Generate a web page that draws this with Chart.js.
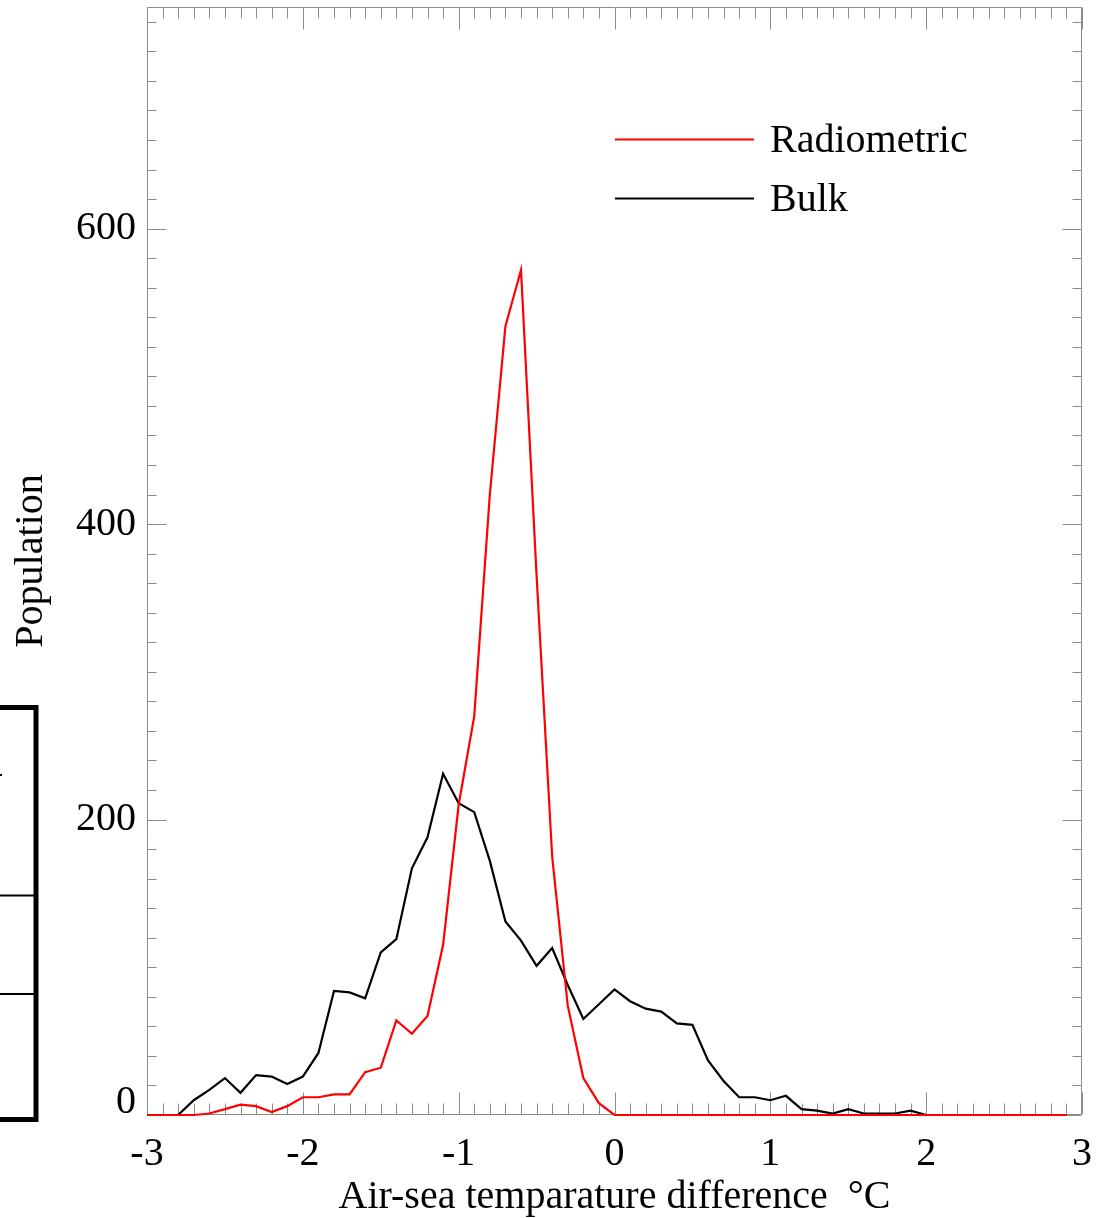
<!DOCTYPE html>
<html>
<head>
<meta charset="utf-8">
<title>Air-sea temperature difference histogram</title>
<script src="https://cdn.jsdelivr.net/npm/chart.js@4.4.1/dist/chart.umd.min.js"></script>
<style>
  html, body { margin: 0; padding: 0; background: #ffffff; }
  canvas { display: block; }
</style>
</head>
<body>
<canvas id="chart" width="1104" height="1218"></canvas>
<script>
// Histogram bin centres (°C)
const binCentres = [
  -3.0, -2.9, -2.8, -2.7, -2.6, -2.5, -2.4, -2.3, -2.2, -2.1,
  -2.0, -1.9, -1.8, -1.7, -1.6, -1.5, -1.4, -1.3, -1.2, -1.1,
  -1.0, -0.9, -0.8, -0.7, -0.6, -0.5, -0.4, -0.3, -0.2, -0.1,
   0.0,  0.1,  0.2,  0.3,  0.4,  0.5,  0.6,  0.7,  0.8,  0.9,
   1.0,  1.1,  1.2,  1.3,  1.4,  1.5,  1.6,  1.7,  1.8,  1.9,
   2.0,  2.1,  2.2,  2.3,  2.4,  2.5,  2.6,  2.7,  2.8,  2.9
];

// Population per bin, radiometric air-sea difference
const radiometric = [
    0,   0,   0,   0,   1,   4,   7,   6,   2,   6,
   12,  12,  14,  14,  29,  32,  64,  55,  67, 115,
  210, 270, 420, 534, 572, 365, 175,  74,  25,   8,
    0,   0,   0,   0,   0,   0,   0,   0,   0,   0,
    0,   0,   0,   0,   0,   0,   0,   0,   0,   0,
    0,   0,   0,   0,   0,   0,   0,   0,   0,   0
];

// Population per bin, bulk air-sea difference
const bulk = [
    0,   0,   0,  10,  17,  25,  15,  27,  26,  21,
   26,  42,  84,  83,  79, 110, 119, 167, 188, 231,
  211, 205, 172, 131, 118, 101, 113,  88,  65,  75,
   85,  77,  72,  70,  62,  61,  37,  23,  12,  12,
   10,  13,   4,   3,   1,   4,   1,   1,   1,   3,
    0,   0,   0,   0,   0,   0,   0,   0,   0,   0
];

const seriesNames = ['Radiometric', 'Bulk'];
const seriesColours = ['#ff0000', '#000000'];

const xTickValues = [-3, -2, -1, 0, 1, 2, 3];
const xTickLabels = ['-3', '-2', '-1', '0', '1', '2', '3'];
const yTickValues = [0, 200, 400, 600];
const yTickLabels = ['0', '200', '400', '600'];

const xTitle = 'Air-sea temparature difference  \u00B0C';
const yTitle = 'Population';

const SERIF = "'Liberation Serif', 'Times New Roman', Times, serif";
const AXIS_GREY = '#8c8c8c';

function toPoints(values) {
  return binCentres.map((x, i) => ({ x: x, y: values[i] }));
}

// Box frame with inward ticks on all four sides
const frameTicks = {
  id: 'frameTicks',
  beforeDatasetsDraw(chart) {
    const { ctx, chartArea, scales } = chart;
    const xs = scales.x, ys = scales.y;
    const L = Math.round(chartArea.left) + 0.5;
    const R = Math.round(chartArea.right) - 0.5;
    const T = Math.round(chartArea.top) + 0.5;
    const B = Math.round(chartArea.bottom) - 0.5;
    ctx.save();
    ctx.strokeStyle = AXIS_GREY;
    ctx.lineWidth = 1;
    ctx.beginPath();
    ctx.rect(L, T, R - L, B - T);
    // x ticks: every 0.1, major every 1
    for (let k = -30; k <= 30; k++) {
      const px = Math.round(xs.getPixelForValue(k / 10)) + 0.5;
      const len = (k % 10 === 0) ? 22 : 11;
      ctx.moveTo(px, B); ctx.lineTo(px, B - len);
      ctx.moveTo(px, T); ctx.lineTo(px, T + len);
    }
    // y ticks: every 20, major every 200
    for (let v = 0; v <= 740; v += 20) {
      const py = Math.round(ys.getPixelForValue(v)) + 0.5;
      const len = (v % 200 === 0) ? 19 : 9;
      ctx.moveTo(L, py); ctx.lineTo(L + len, py);
      ctx.moveTo(R, py); ctx.lineTo(R - len, py);
    }
    ctx.stroke();
    ctx.restore();
  }
};

// Legend inside the plot, upper right
const insetLegend = {
  id: 'insetLegend',
  afterDatasetsDraw(chart) {
    const { ctx, chartArea } = chart;
    const x0 = chartArea.left + 468;
    const x1 = chartArea.left + 607;
    const xt = chartArea.left + 623;
    ctx.save();
    ctx.font = '40px ' + SERIF;
    ctx.textBaseline = 'middle';
    ctx.textAlign = 'left';
    chart.data.datasets.forEach((ds, i) => {
      const y = chartArea.top + 132.5 + i * 59;
      ctx.strokeStyle = ds.borderColor;
      ctx.lineWidth = 2;
      ctx.beginPath();
      ctx.moveTo(x0, y); ctx.lineTo(x1, y);
      ctx.stroke();
      ctx.fillStyle = '#000000';
      ctx.fillText(ds.label, xt, y + 2);
    });
    ctx.restore();
  }
};

// Frame of the adjoining panel, cut off by the left edge of the page
const edgePanel = {
  id: 'edgePanel',
  afterDraw(chart) {
    const { ctx } = chart;
    ctx.save();
    ctx.strokeStyle = '#000000';
    ctx.lineWidth = 5;
    ctx.beginPath();
    ctx.moveTo(-10, 707.5); ctx.lineTo(36, 707.5); ctx.lineTo(36, 1119.5); ctx.lineTo(-10, 1119.5);
    ctx.stroke();
    ctx.lineWidth = 2;
    ctx.beginPath();
    ctx.moveTo(0, 895.5); ctx.lineTo(34, 895.5);
    ctx.moveTo(0, 994); ctx.lineTo(34, 994);
    ctx.moveTo(0, 775); ctx.lineTo(2, 775);
    ctx.stroke();
    ctx.restore();
  }
};

new Chart(document.getElementById('chart'), {
  type: 'line',
  data: {
    datasets: [
      {
        label: seriesNames[0],
        data: toPoints(radiometric),
        borderColor: seriesColours[0],
        borderWidth: 2.2,
        pointRadius: 0,
        tension: 0,
        fill: false,
        clip: 6
      },
      {
        label: seriesNames[1],
        data: toPoints(bulk),
        borderColor: seriesColours[1],
        borderWidth: 2.2,
        pointRadius: 0,
        tension: 0,
        fill: false,
        clip: 6
      }
    ]
  },
  options: {
    responsive: false,
    animation: false,
    devicePixelRatio: 1,
    layout: { padding: { top: 7, right: 22, left: 0, bottom: 0 } },
    plugins: {
      legend: { display: false },
      tooltip: { enabled: false }
    },
    scales: {
      x: {
        type: 'linear',
        min: -3,
        max: 3,
        grid: { display: false, drawTicks: false },
        border: { display: false },
        afterBuildTicks: (scale) => { scale.ticks = xTickValues.map(v => ({ value: v })); },
        afterFit: (scale) => {
          scale.height = 103;
          scale.paddingLeft = 0;
          scale.paddingRight = 0;
        },
        ticks: {
          autoSkip: false,
          maxRotation: 0,
          padding: 15,
          color: '#000000',
          font: { family: SERIF, size: 40 },
          callback: (value) => xTickLabels[xTickValues.indexOf(value)]
        },
        title: {
          display: true,
          text: xTitle,
          color: '#000000',
          font: { family: SERIF, size: 40, lineHeight: 1 },
          padding: { top: 0, bottom: 1 }
        }
      },
      y: {
        type: 'linear',
        min: 0,
        max: 750,
        grid: { display: false, drawTicks: false },
        border: { display: false },
        afterBuildTicks: (scale) => { scale.ticks = yTickValues.map(v => ({ value: v })); },
        afterFit: (scale) => {
          scale.width = 147;
          scale.paddingTop = 0;
          scale.paddingBottom = 0;
        },
        ticks: {
          autoSkip: false,
          padding: 11,
          color: '#000000',
          // the zero label sits a little above the bottom axis
          font: { family: SERIF, size: 40, lineHeight: 0.625 },
          callback: (value) => {
            const label = yTickLabels[yTickValues.indexOf(value)];
            return value === 0 ? [label, ''] : label;
          }
        },
        title: {
          display: true,
          text: yTitle,
          color: '#000000',
          font: { family: SERIF, size: 40, lineHeight: 1 },
          padding: { top: 11.5, bottom: 0 }
        }
      }
    }
  },
  plugins: [frameTicks, insetLegend, edgePanel]
});
</script>
</body>
</html>
